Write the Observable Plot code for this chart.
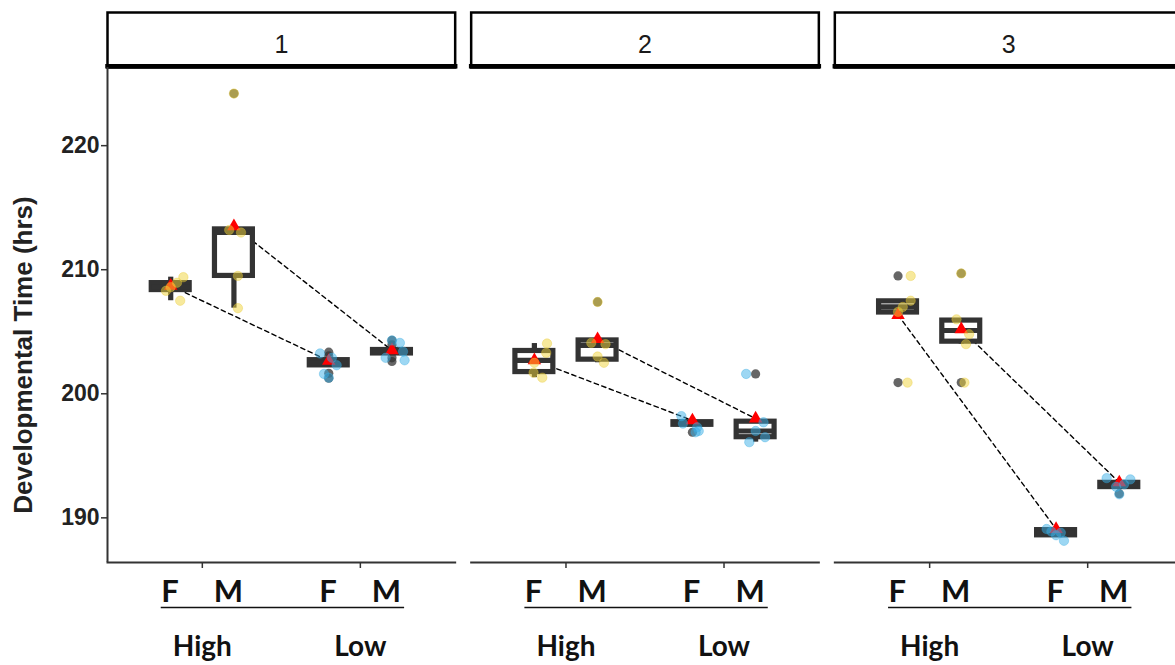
<!DOCTYPE html>
<html>
<head>
<meta charset="utf-8">
<script src="https://cdn.jsdelivr.net/npm/d3@7"></script>
<script src="https://cdn.jsdelivr.net/npm/@observablehq/plot@0.6"></script>
<style>
  html, body { margin: 0; padding: 0; background: #fff; overflow: hidden; }
  svg { display: block; max-width: none !important; }
</style>
</head>
<body>
<div id="chart"></div>
<script>
// ---- data ----
const panelIds = [1, 2, 3];
const doseLevels = ["High", "Low"];
const sexLevels = ["F", "M"];
const yTicks = [190, 200, 210, 220];
const yTitle = "Developmental Time (hrs)";

const groupPanel = [1, 1, 1, 1, 2, 2, 2, 2, 3, 3, 3, 3];
const groupDose  = ["High", "High", "Low", "Low", "High", "High", "Low", "Low", "High", "High", "Low", "Low"];
const groupSex   = ["F", "M", "F", "M", "F", "M", "F", "M", "F", "M", "F", "M"];

const boxQ1     = [208.36, 209.5, 202.29, 203.25, 201.75, 202.75, 197.5, 196.5, 206.55, 204.2, 188.59, 192.48];
const boxMedian = [208.6, 213.0, 202.5, 203.4, 202.7, 203.9, 197.6, 197.0, 207.0, 205.1, 188.8, 192.65];
const boxQ3     = [208.92, 213.25, 202.71, 203.53, 203.45, 204.3, 197.71, 197.75, 207.45, 205.9, 189.01, 192.82];
const whiskerLo = [207.5, 206.9, 202.29, 203.25, 201.3, 202.5, 197.5, 196.1, 206.55, 204.0, 188.59, 192.48];
const whiskerHi = [209.4, 213.25, 202.71, 203.53, 204.05, 204.3, 197.71, 197.75, 207.45, 205.9, 189.01, 192.82];
const groupMean = [208.7, 213.5, 202.65, 203.5, 202.7, 204.4, 197.85, 198.0, 206.35, 205.2, 189.1, 192.85];

const outlierValues = [
  [], [224.2], [203.35, 203.05, 201.65, 201.25], [204.3, 203.95, 202.9, 202.6],
  [], [207.4], [196.9], [201.6],
  [209.5, 200.9], [209.7, 200.9], [], [191.95]
];

const pointValues = [
  [209.4, 208.95, 208.6, 208.3, 207.5], [224.2, 213.2, 213.0, 209.5, 206.9],
  [203.25, 202.9, 202.3, 201.6, 201.3], [204.3, 204.1, 203.4, 202.9, 202.7],
  [204.05, 203.3, 202.5, 201.7, 201.3], [207.4, 204.1, 204.0, 203.0, 202.5],
  [198.2, 197.6, 197.3, 197.0, 196.9], [201.6, 197.7, 197.0, 196.5, 196.1],
  [209.5, 207.5, 207.0, 206.6, 200.9], [209.7, 206.0, 204.8, 204.0, 200.9],
  [189.1, 188.9, 188.8, 188.6, 188.15], [193.2, 193.1, 192.7, 192.5, 191.9]
];
const pointJitter = [
  [0.08, 0.04, 0.0, -0.03, 0.06], [0.0, -0.03, 0.045, 0.025, 0.025],
  [-0.055, 0.02, 0.05, -0.03, 0.0], [0.0, 0.05, 0.07, -0.04, 0.08],
  [0.08, 0.075, 0.0, -0.005, 0.05], [0.0, -0.04, 0.05, 0.0, 0.04],
  [-0.07, -0.06, 0.03, 0.04, 0.02], [-0.06, 0.05, 0.0, 0.06, -0.04],
  [0.08, 0.08, 0.03, 0.0, 0.06], [0.0, -0.03, 0.05, 0.03, 0.02],
  [-0.06, -0.03, 0.03, 0.0, 0.05], [-0.08, 0.07, 0.03, -0.02, 0.0]
];

// ---- tables built from the arrays ----
const dodge = {F: -0.2, M: 0.2};
const halfBox = 0.12;
const groups = groupPanel.map((p, i) => ({
  panel: p, dose: groupDose[i], sex: groupSex[i],
  pos: doseLevels.indexOf(groupDose[i]) + 1 + dodge[groupSex[i]],
  q1: boxQ1[i], med: boxMedian[i], q3: boxQ3[i],
  lo: whiskerLo[i], hi: whiskerHi[i], mean: groupMean[i]
}));
const outlierRows = groups.flatMap((g, i) => outlierValues[i].map(v => ({...g, v})));
const pointRows = groups.flatMap((g, i) => pointValues[i].map((v, j) => ({...g, v, jx: g.pos + pointJitter[i][j]})));
const sexLabelRows = panelIds.flatMap(p => doseLevels.flatMap((d, di) => sexLevels.map(s => ({
  panel: p, text: s, pos: di + 1 + (s === "F" ? -0.205 : 0.165)
}))));
const doseLabelRows = panelIds.flatMap(p => doseLevels.map((d, di) => ({panel: p, text: d, pos: di + 1})));
const panelRows = panelIds.map(p => ({panel: p}));

const yDomain = [186.4, 226.3];
const sans = "'Liberation Sans', Arial, sans-serif";
const calib = "Lato, 'Open Sans', sans-serif";
const boxStroke = "#333333";
const boxWidth = 5.2;

const chart = Plot.plot({
  width: 1183, height: 665,
  marginTop: 67, marginBottom: 103, marginLeft: 107, marginRight: 1,
  style: {background: "white", overflow: "visible", maxWidth: "none"},
  fx: {domain: panelIds, paddingInner: 16 / 364, paddingOuter: 0, axis: null, round: false},
  x: {type: "linear", domain: [0.4, 2.6]},
  y: {domain: yDomain},
  marks: [
    // strips
    Plot.frame({fill: "white", stroke: "black", strokeWidth: 2.5, insetTop: -55, insetBottom: 495}),
    Plot.frame({anchor: "top", stroke: "black", strokeWidth: 4.5, insetTop: -1.2}),
    Plot.text(panelRows, {fx: "panel", text: d => String(d.panel), frameAnchor: "top", lineAnchor: "middle",
      dy: -23, fontSize: 25, fontFamily: sans, fill: "#1a1a1a"}),
    // axes
    Plot.frame({anchor: "bottom", stroke: "#333", strokeWidth: 2}),
    Plot.ruleX(panelRows.slice(0, 1), {fx: "panel", x: () => 0.4, stroke: "#333", strokeWidth: 2}),
    Plot.axisX({ticks: [1, 2], tickSize: 6, tickFormat: () => "", stroke: "#333", strokeWidth: 1.5}),
    Plot.axisY({ticks: yTicks, tickSize: 6, tickPadding: 2, label: null, fontSize: 23,
      fontWeight: "bold", fontFamily: sans, fill: "#222", stroke: "#333", strokeWidth: 1.5}),
    Plot.text(panelRows.slice(0, 1), {fx: "panel", text: () => yTitle, frameAnchor: "left",
      rotate: -90, textAnchor: "middle", lineAnchor: "middle", dx: -84, dy: 40, fontSize: 26,
      fontWeight: "bold", fontFamily: sans, fill: "#222"}),
    // x labels
    Plot.text(sexLabelRows, {fx: "panel", x: "pos", text: "text", frameAnchor: "bottom", lineAnchor: "middle",
      dy: 30, fontSize: 31, fontWeight: "bold", fontFamily: calib, fill: "#111"}),
    Plot.ruleY(panelRows, {fx: "panel", y: () => yDomain[0], x1: () => 0.74, x2: () => 2.28, dy: 45,
      stroke: "#111", strokeWidth: 1.5}),
    Plot.text(doseLabelRows, {fx: "panel", x: "pos", text: "text", frameAnchor: "bottom", lineAnchor: "middle",
      dy: 85, fontSize: 28, fontWeight: "bold", fontFamily: calib, fill: "#111"}),
    // mean connecting lines
    Plot.line(groups, {fx: "panel", x: "pos", y: "mean", z: "sex", stroke: "black",
      strokeWidth: 1.4, strokeDasharray: "4.5,3.5"}),
    // boxplots
    Plot.ruleX(groups, {fx: "panel", x: "pos", y1: "lo", y2: "hi", stroke: boxStroke, strokeWidth: boxWidth}),
    Plot.rect(groups, {fx: "panel", x1: d => d.pos - halfBox, x2: d => d.pos + halfBox, y1: "q1", y2: "q3",
      fill: "white", stroke: boxStroke, strokeWidth: boxWidth}),
    Plot.ruleY(groups, {fx: "panel", y: "med", x1: d => d.pos - halfBox, x2: d => d.pos + halfBox,
      stroke: boxStroke, strokeWidth: boxWidth}),
    Plot.dot(outlierRows, {fx: "panel", x: "pos", y: "v", r: 4.6, fill: "#333", fillOpacity: 0.75, stroke: "none"}),
    // means
    Plot.dot(groups, {fx: "panel", x: "pos", y: "mean", symbol: "triangle", r: 5, fill: "#ff0000", stroke: "none"}),
    // jittered points
    Plot.dot(pointRows, {fx: "panel", x: "jx", y: "v", r: 4.7,
      fill: d => d.dose === "High" ? "#F0D43A" : "#3BB0E8", fillOpacity: 0.5,
      stroke: d => d.dose === "High" ? "#E8C830" : "#30A8E0", strokeOpacity: 0.35, strokeWidth: 1})
  ]
});
document.getElementById("chart").appendChild(chart);
</script>
</body>
</html>
